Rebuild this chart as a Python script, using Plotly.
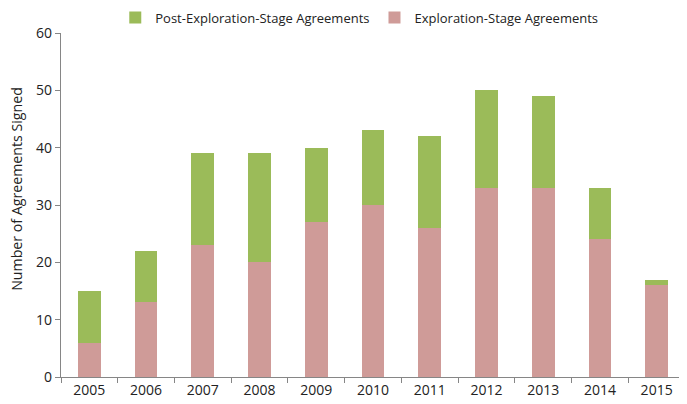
import plotly.graph_objects as go

years = ["2005", "2006", "2007", "2008", "2009", "2010", "2011", "2012", "2013", "2014", "2015"]
exploration = [6, 13, 23, 20, 27, 30, 26, 33, 33, 24, 16]
post_exploration = [9, 9, 16, 19, 13, 13, 16, 17, 16, 9, 1]
y_title = "Number of Agreements Signed"

fig = go.Figure()
fig.add_trace(go.Bar(x=years, y=exploration, name="Exploration-Stage Agreements",
                     marker=dict(color="#CF9B98", line=dict(width=0)), width=0.4))
fig.add_trace(go.Bar(x=years, y=post_exploration, name="Post-Exploration-Stage Agreements",
                     marker=dict(color="#9BBB59", line=dict(width=0)), width=0.4))

font_fam = "Open Sans, Liberation Sans, sans-serif"
fig.update_layout(
    barmode="stack",
    width=679, height=396,
    margin=dict(l=53, r=2, t=25, b=27, autoexpand=False),
    plot_bgcolor="white", paper_bgcolor="white",
    font=dict(family=font_fam, size=12, color="#222"),
    showlegend=True,
    legend=dict(orientation="h", x=0.478, xanchor="center", y=1.045, yanchor="middle",
                traceorder="reversed", font=dict(size=13), itemwidth=30,
                bgcolor="rgba(0,0,0,0)"),
    bargap=0.6,
)
fig.add_annotation(text=y_title, textangle=-90, xref="paper", yref="paper",
                   x=-0.0705, y=0.547, xanchor="center", yanchor="middle",
                   showarrow=False, font=dict(size=14.2, color="#222"))
fig.update_xaxes(showline=True, linecolor="#868686", linewidth=1.3, ticks="outside",
                 tickson="boundaries", ticklen=5, tickcolor="#868686", automargin=False,
                 tickfont=dict(size=14), showgrid=False)
fig.update_yaxes(range=[0, 60], dtick=10, showline=True, linecolor="#868686", linewidth=1.3,
                 ticks="outside", ticklen=5, tickcolor="#868686", showgrid=False,
                 zeroline=False, tickfont=dict(size=14), automargin=False)
fig.write_html("out.html")
